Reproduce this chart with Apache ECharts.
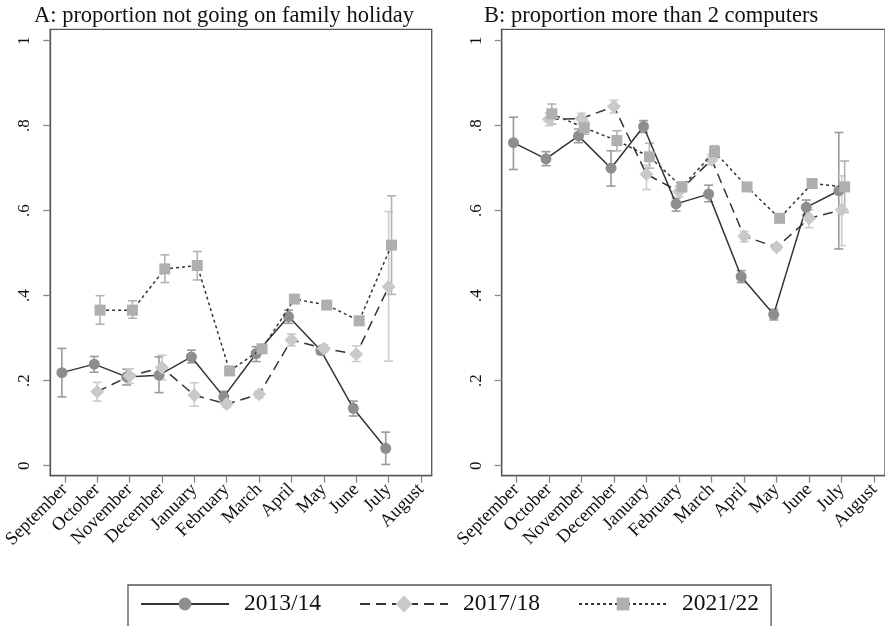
<!DOCTYPE html>
<html>
<head>
<meta charset="utf-8">
<script src="https://cdn.jsdelivr.net/npm/echarts@6/dist/echarts.min.js"></script>
<style>
html,body{margin:0;padding:0;background:#fff;}
#chart{width:885px;height:626px;}
</style>
</head>
<body>
<div id="chart"></div>
<script>
// ---------- data ----------
const months = ['September','October','November','December','January','February','March','April','May','June','July','August'];
const yTicks = [0, 0.2, 0.4, 0.6, 0.8, 1];
const yTickLabels = ['0', '.2', '.4', '.6', '.8', '1'];
const seriesNames = ['2013/14', '2017/18', '2021/22'];
const panelTitles = ['A: proportion not going on family holiday', 'B: proportion more than 2 computers'];

// Panel A: proportion not going on family holiday
const holiday2013 = [0.219, 0.239, 0.209, 0.213, 0.256, 0.162, 0.264, 0.351, 0.271, 0.135, 0.041, null];
const holiday2013Lo = [0.162, 0.220, 0.190, 0.172, 0.242, 0.150, 0.245, 0.335, 0.262, 0.117, 0.003, null];
const holiday2013Hi = [0.276, 0.257, 0.227, 0.256, 0.272, 0.175, 0.280, 0.366, 0.280, 0.152, 0.079, null];
const holiday2017 = [null, 0.174, 0.211, 0.231, 0.166, 0.145, 0.168, 0.296, 0.276, 0.262, 0.421, null];
const holiday2017Lo = [null, 0.152, 0.194, 0.202, 0.140, 0.137, 0.160, 0.282, 0.268, 0.245, 0.246, null];
const holiday2017Hi = [null, 0.196, 0.228, 0.260, 0.195, 0.153, 0.176, 0.310, 0.284, 0.282, 0.598, null];
const holiday2021 = [null, 0.366, 0.366, 0.463, 0.471, 0.223, 0.275, 0.392, 0.378, 0.341, 0.519, null];
const holiday2021Lo = [null, 0.333, 0.347, 0.431, 0.437, 0.215, 0.265, 0.383, 0.371, 0.334, 0.403, null];
const holiday2021Hi = [null, 0.400, 0.388, 0.496, 0.504, 0.231, 0.285, 0.401, 0.385, 0.348, 0.635, null];

// Panel B: proportion more than 2 computers
const computers2013 = [0.760, 0.722, 0.776, 0.700, 0.798, 0.616, 0.639, 0.445, 0.356, 0.608, 0.647, null];
const computers2013Lo = [0.697, 0.706, 0.760, 0.658, 0.784, 0.599, 0.621, 0.431, 0.343, 0.590, 0.510, null];
const computers2013Hi = [0.820, 0.739, 0.792, 0.741, 0.812, 0.629, 0.660, 0.459, 0.368, 0.625, 0.784, null];
const computers2017 = [null, 0.815, 0.817, 0.845, 0.686, 0.645, 0.720, 0.540, 0.514, 0.582, 0.602, null];
const computers2017Lo = [null, 0.800, 0.805, 0.830, 0.650, 0.632, 0.708, 0.527, 0.507, 0.560, 0.518, null];
const computers2017Hi = [null, 0.830, 0.829, 0.860, 0.707, 0.658, 0.732, 0.551, 0.521, 0.602, 0.682, null];
const computers2021 = [null, 0.828, 0.795, 0.765, 0.727, 0.656, 0.739, 0.656, 0.582, 0.664, 0.656, null];
const computers2021Lo = [null, 0.804, 0.780, 0.741, 0.700, 0.645, 0.725, 0.648, 0.575, 0.657, 0.596, null];
const computers2021Hi = [null, 0.851, 0.810, 0.788, 0.759, 0.667, 0.753, 0.664, 0.589, 0.671, 0.717, null];

// ---------- styling ----------
const FONT = 'Liberation Serif';
const styles = [
  { dodge: -0.09, symbol: 'circle', size: 11, fill: '#8e8e8e', ci: '#9a9a9a', dash: 'solid' },
  { dodge: 0.0, symbol: 'diamond', size: 14, fill: '#c9c9c9', ci: '#cccccc', dash: [10, 6] },
  { dodge: 0.09, symbol: 'rect', size: 11, fill: '#afafaf', ci: '#b3b3b3', dash: [3, 3] }
];
const panels = [
  { vals: [holiday2013, holiday2017, holiday2021], lo: [holiday2013Lo, holiday2017Lo, holiday2021Lo], hi: [holiday2013Hi, holiday2017Hi, holiday2021Hi] },
  { vals: [computers2013, computers2017, computers2021], lo: [computers2013Lo, computers2017Lo, computers2021Lo], hi: [computers2013Hi, computers2017Hi, computers2021Hi] }
];

function errRenderer(color) {
  return function (params, api) {
    const x = api.value(0), lo = api.value(1), hi = api.value(2);
    const p1 = api.coord([x, lo]), p2 = api.coord([x, hi]);
    const w = 4.5;
    const st = { stroke: color, lineWidth: 1.6, fill: null };
    return {
      type: 'group',
      children: [
        { type: 'line', shape: { x1: p1[0], y1: p1[1], x2: p2[0], y2: p2[1] }, style: st },
        { type: 'line', shape: { x1: p1[0] - w, y1: p1[1], x2: p1[0] + w, y2: p1[1] }, style: st },
        { type: 'line', shape: { x1: p2[0] - w, y1: p2[1], x2: p2[0] + w, y2: p2[1] }, style: st }
      ]
    };
  };
}

const gridLefts = [47, 501.7];
const grids = gridLefts.map(l => ({
  left: l, top: 29.3, width: 384.7, height: 446.4,
  show: true, borderColor: '#555', borderWidth: 1.3, backgroundColor: '#fff', containLabel: false
}));

const monthIdx = months.map((m, i) => i);
const xAxes = gridLefts.map((l, gi) => ({
  type: 'value', gridIndex: gi, min: -0.45, max: 11.33, position: 'bottom',
  splitLine: { show: false },
  axisLine: { show: true, onZero: false, lineStyle: { color: '#555', width: 1.3 } },
  axisTick: { show: true, customValues: monthIdx, length: 7, lineStyle: { color: '#888', width: 1.3 } },
  axisLabel: {
    show: true, customValues: monthIdx, rotate: 45, margin: 11,
    fontFamily: FONT, fontSize: 18.5, color: '#111',
    formatter: v => months[Math.round(v)]
  }
}));
const yAxes = gridLefts.map((l, gi) => ({
  type: 'value', gridIndex: gi, min: -0.0235, max: 1.0268, position: 'left',
  splitLine: { show: false },
  axisLine: { show: true, onZero: false, lineStyle: { color: '#555', width: 1.3 } },
  axisTick: { show: true, customValues: yTicks, length: 7, lineStyle: { color: '#888', width: 1.3 } },
  axisLabel: {
    show: true, customValues: yTicks, rotate: 90, margin: 17,
    fontFamily: FONT, fontSize: 17, color: '#111',
    formatter: v => yTickLabels[yTicks.findIndex(t => Math.abs(t - v) < 1e-6)]
  }
}));

const series = [];
panels.forEach((p, gi) => {
  p.vals.forEach((arr, si) => {
    const st = styles[si];
    const errData = [];
    arr.forEach((v, i) => {
      if (v !== null) errData.push([i + st.dodge, p.lo[si][i], p.hi[si][i]]);
    });
    series.push({
      type: 'custom', name: seriesNames[si] + ' CI', xAxisIndex: gi, yAxisIndex: gi,
      renderItem: errRenderer(st.ci), data: errData, z: 1, silent: true,
      encode: { x: 0, y: [1, 2] }
    });
  });
  p.vals.forEach((arr, si) => {
    const st = styles[si];
    const lineData = [];
    arr.forEach((v, i) => { if (v !== null) lineData.push([i + st.dodge, v]); });
    series.push({
      type: 'line', name: seriesNames[si], xAxisIndex: gi, yAxisIndex: gi,
      data: lineData, symbol: st.symbol, symbolSize: st.size, showSymbol: true,
      itemStyle: { color: st.fill, opacity: 1 },
      lineStyle: { color: '#333', width: 1.5, type: st.dash },
      z: 2 + si, animation: false
    });
  });
});

const chart = echarts.init(document.getElementById('chart'), null, { renderer: 'canvas' });
chart.setOption({
  backgroundColor: '#fff',
  animation: false,
  title: [
    { text: panelTitles[0], left: 29, top: 0, textStyle: { fontFamily: FONT, fontSize: 22.5, fontWeight: 'normal', color: '#111' } },
    { text: panelTitles[1], left: 479, top: 0, textStyle: { fontFamily: FONT, fontSize: 22.5, fontWeight: 'normal', color: '#111' } }
  ],
  grid: grids,
  xAxis: xAxes,
  yAxis: yAxes,
  legend: {
    data: [
      { name: seriesNames[0] },
      { name: seriesNames[1], itemStyle: { borderColor: '#c9c9c9', borderWidth: 3 } },
      { name: seriesNames[2] }
    ],
    left: 128, top: 585,
    padding: [7, 12, 12, 12],
    itemWidth: 88, itemHeight: 16, itemGap: 38,
    borderColor: '#555', borderWidth: 1.3,
    textStyle: { fontFamily: FONT, fontSize: 23.5, color: '#111', padding: [0, 0, 0, 10] }
  },
  series: series
});
</script>
</body>
</html>
